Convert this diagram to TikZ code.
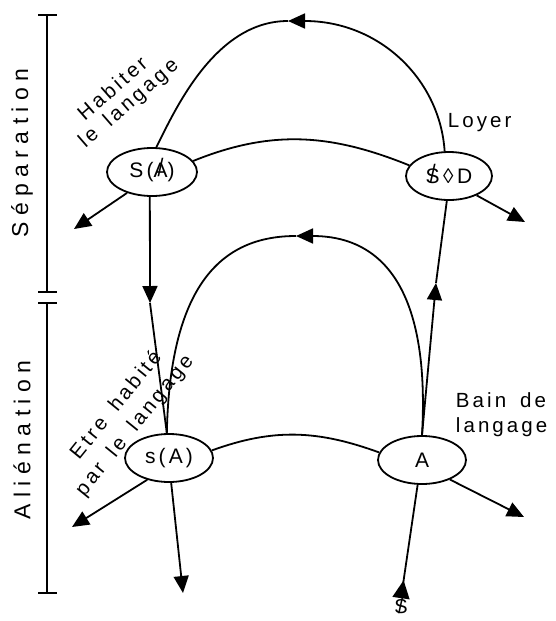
\documentclass[tikz,border=0pt]{standalone}
\usepackage{fontspec}
\setmainfont{Liberation Sans}
\newfontfamily\spaced[LetterSpace=15,WordSpace=1.6]{Liberation Sans}
\newfontfamily\sidefont[LetterSpace=28]{Liberation Sans}
\usetikzlibrary{arrows.meta,shapes.geometric}
% a glyph struck through by a slash
\newcommand\strikeglyph[1]{\ooalign{#1\cr\hidewidth\raisebox{0.5pt}{\scalebox{1}[1.2]{/}}\hidewidth\cr}}

\begin{document}
\begin{tikzpicture}[x=1pt,y=-1pt,line width=1.8pt,
  ell/.style={draw,ellipse,inner sep=0pt,minimum width=88pt,minimum height=48pt,
    font=\spaced\fontsize{21}{23}\selectfont},
  lbl/.style={inner sep=0pt,font=\spaced\fontsize{20.5}{22}\selectfont},
  side/.style={inner sep=0pt,rotate=90,font=\sidefont\fontsize{23}{25}\selectfont},
  tip/.style={-{Triangle[length=17pt,width=15pt]}},
  revtip/.style={-{Triangle[reversed,length=18pt,width=17pt]}},
  bracket/.style={line width=1.5pt}]
\useasboundingbox (0,0) rectangle (556,621);

% side brackets
\draw[bracket] (47,15) -- (47,292) (38,15) -- (57,15) (38,292) -- (57,292);
\draw[bracket] (47,303) -- (47,593) (38,303) -- (57,303) (38,593) -- (57,593);
\node[side] (sep) at (22,153) {Séparation};
\node[side] (ali) at (22,440) {Aliénation};

% the four places
\node[ell,minimum width=90pt] (SA) at (152,172) {S(\strikeglyph{A})};
\node[ell,minimum width=86pt] (SD) at (449,176) {\strikeglyph{S}\,◊\,D};
\node[ell] (sA) at (169,458) {s(A)};
\node[ell] (A) at (422,460) {A};

% free ends and mid-path arrow points
\coordinate (pk1) at (288,21);
\coordinate (pk2) at (296,236);
\coordinate (m1) at (150,303);
\coordinate (m2) at (436,283);
\coordinate (e1) at (74,229);
\coordinate (e2) at (525,222);
\coordinate (e3) at (72,527);
\coordinate (e4) at (183,593);
\coordinate (e5) at (524,517);
\node[inner sep=1pt,font=\fontsize{20}{22}\selectfont] (Sb) at (401,607) {\strikeglyph{S}};

% labels
\node[lbl,rotate=41] (hab1) at (112,88) {Habiter};
\node[lbl,rotate=41] (hab2) at (129,104) {le langage};
\node[lbl,rotate=51] (etre1) at (115,404) {Etre habité};
\node[lbl,rotate=51] (etre2) at (135,426) {par le langage};
\node[lbl,anchor=base west] (loyer) at (447,127) {Loyer};
\node[lbl,anchor=base west] (bain1) at (455,407) {Bain de};
\node[lbl,anchor=base west] (bain2) at (455,432) {langage};

% upper level
\draw (SA.15) to[out=22,in=158] (SD.165);
\draw[tip] (SD.100) .. controls (440,80) and (380,21) .. (pk1);
\draw (pk1) .. controls (215,21) and (175,110) .. (SA.80);
\draw[tip] (SA.220) -- (e1);
\draw[tip] (SD.-35) -- (e2);

% between levels
\draw[tip] (SA.265) -- (m1);
\draw (m1) -- (sA.95);
\draw[tip] (A.90) -- (m2);
\draw (m2) -- (SD.265);

% lower level
\draw (sA.10) to[out=20,in=160] (A.170);
\draw[tip] (A.90) .. controls (432,260) and (360,236) .. (pk2);
\draw (pk2) .. controls (225,236) and (170,280) .. (sA.95);
\draw[tip] (sA.225) -- (e3);
\draw[tip] (sA.275) -- (e4);
\draw[tip] (A.-35) -- (e5);
\draw[revtip] (A.260) -- (Sb.north);
\end{tikzpicture}
\end{document}
